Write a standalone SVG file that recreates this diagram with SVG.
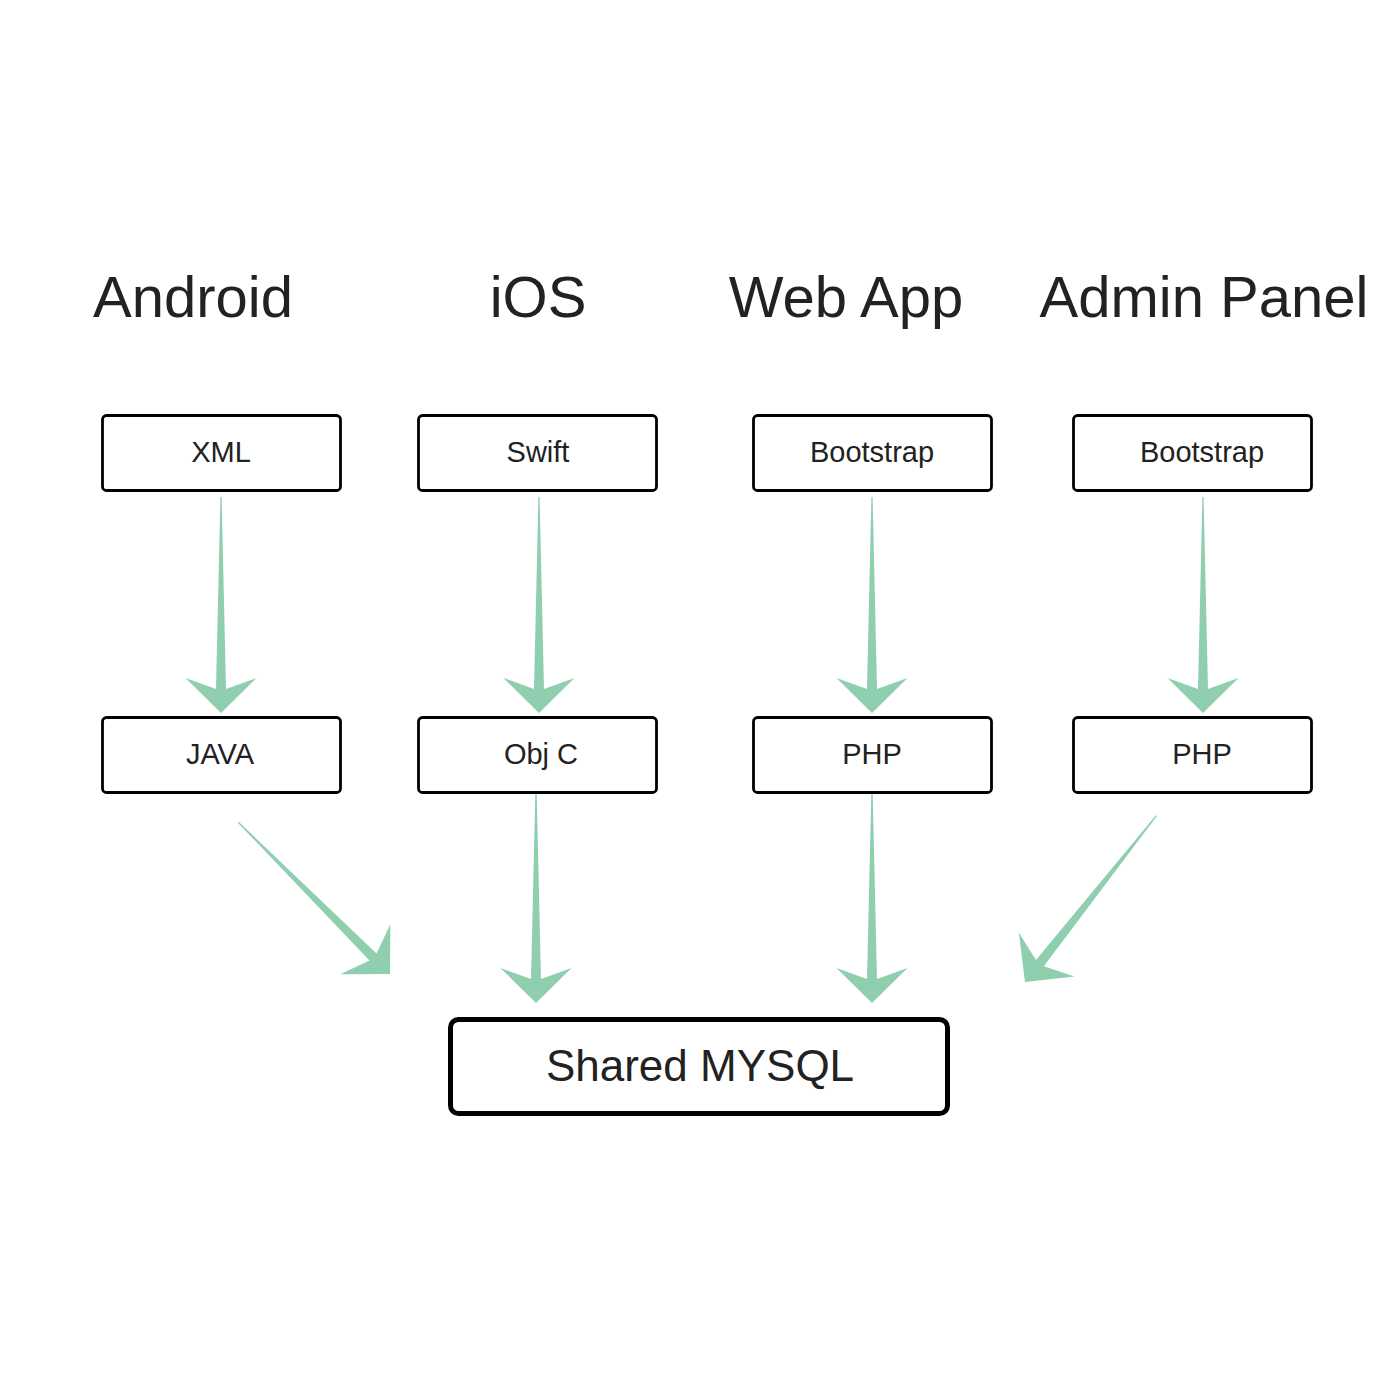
<svg xmlns="http://www.w3.org/2000/svg" width="1400" height="1400" viewBox="0 0 1400 1400">
<style>
.title{font-family:"Liberation Sans",Arial,sans-serif;font-size:58px;fill:#222;text-anchor:middle}
.lbl{font-family:"Liberation Sans",Arial,sans-serif;font-size:29px;fill:#222;text-anchor:middle}
.big{font-family:"Liberation Sans",Arial,sans-serif;font-size:44px;fill:#222;text-anchor:middle}
.box{fill:#fff;stroke:#000;stroke-width:2.8}
.bigbox{fill:#fff;stroke:#000;stroke-width:5}
.arr{fill:#8fcfb0}
</style>
<rect width="1400" height="1400" fill="#fff"/>
<g id="titles">
<text class="title" x="193" y="317">Android</text>
<text class="title" x="538" y="317">iOS</text>
<text class="title" x="846" y="317">Web App</text>
<text class="title" x="1204" y="317">Admin Panel</text>
</g>
<g id="connectors">
<polygon class="arr" transform="translate(221,713)" points="-0.6,-216 0.6,-216 5,-24 35.5,-35 0,0 -35.5,-35 -5,-24"/>
<polygon class="arr" transform="translate(539,713)" points="-0.6,-216 0.6,-216 5,-24 35.5,-35 0,0 -35.5,-35 -5,-24"/>
<polygon class="arr" transform="translate(872,713)" points="-0.6,-216 0.6,-216 5,-24 35.5,-35 0,0 -35.5,-35 -5,-24"/>
<polygon class="arr" transform="translate(1203,713)" points="-0.6,-216 0.6,-216 5,-24 35.5,-35 0,0 -35.5,-35 -5,-24"/>
<polygon class="arr" transform="translate(536,1003)" points="-0.6,-213 0.6,-213 5,-24 35.5,-35 0,0 -35.5,-35 -5,-24"/>
<polygon class="arr" transform="translate(872,1003)" points="-0.6,-213 0.6,-213 5,-24 35.5,-35 0,0 -35.5,-35 -5,-24"/>
<polygon class="arr" transform="translate(390,974) rotate(-45)" points="-0.6,-215 0.6,-215 5,-24 35.5,-35 0,0 -35.5,-35 -5,-24"/>
<polygon class="arr" transform="translate(1025,982) rotate(38.3)" points="-0.6,-212 0.6,-212 5,-24 35.5,-35 0,0 -35.5,-35 -5,-24"/>
</g>
<g id="xml"><rect class="box" x="102.5" y="415.5" width="238" height="75" rx="4"/><text class="lbl" x="221" y="462">XML</text></g>
<g id="swift"><rect class="box" x="418.5" y="415.5" width="238" height="75" rx="4"/><text class="lbl" x="538" y="462">Swift</text></g>
<g id="bootstrap-web"><rect class="box" x="753.5" y="415.5" width="238" height="75" rx="4"/><text class="lbl" x="872" y="462">Bootstrap</text></g>
<g id="bootstrap-admin"><rect class="box" x="1073.5" y="415.5" width="238" height="75" rx="4"/><text class="lbl" x="1202" y="462">Bootstrap</text></g>
<g id="java"><rect class="box" x="102.5" y="717.5" width="238" height="75" rx="4"/><text class="lbl" x="220" y="764">JAVA</text></g>
<g id="objc"><rect class="box" x="418.5" y="717.5" width="238" height="75" rx="4"/><text class="lbl" x="541" y="764">Obj C</text></g>
<g id="php-web"><rect class="box" x="753.5" y="717.5" width="238" height="75" rx="4"/><text class="lbl" x="872" y="764">PHP</text></g>
<g id="php-admin"><rect class="box" x="1073.5" y="717.5" width="238" height="75" rx="4"/><text class="lbl" x="1202" y="764">PHP</text></g>
<g id="mysql"><rect class="bigbox" x="450.5" y="1019.5" width="497" height="94" rx="8"/><text class="big" x="700" y="1081">Shared MYSQL</text></g>
</svg>
